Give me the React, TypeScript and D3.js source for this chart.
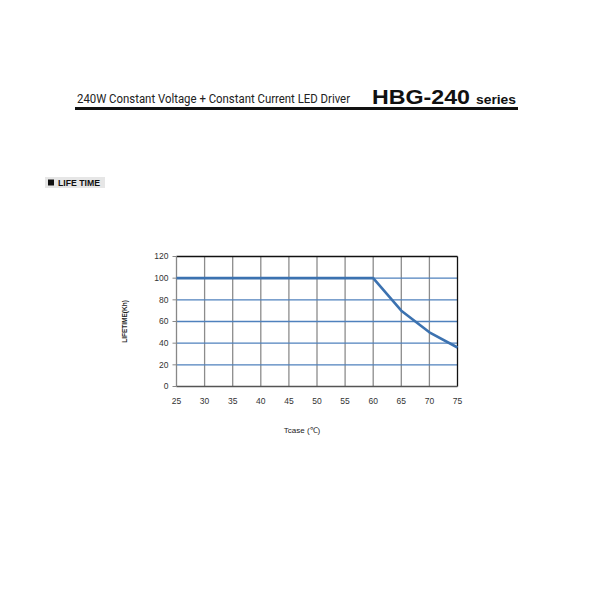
import React from "react";
import * as d3 from "d3";

const tcase = [25, 30, 35, 40, 45, 50, 55, 60, 65, 70, 75];
const lifetime = [100, 100, 100, 100, 100, 100, 100, 100, 70, 50, 36];
const yTicks = [0, 20, 40, 60, 80, 100, 120];
const xTicks = [25, 30, 35, 40, 45, 50, 55, 60, 65, 70, 75];

export default function App() {
  const W = 600, H = 599;
  const x = d3.scaleLinear().domain([25, 75]).range([176.5, 457.5]);
  const y = d3.scaleLinear().domain([0, 120]).range([386.5, 256.5]);
  const line = d3.line<number>().x((_, i) => x(tcase[i])).y((d) => y(d));
  const pts = lifetime;
  return (
    <svg width={W} height={H} style={{ position: "absolute", left: 0, top: 0, background: "#fff" }}
      fontFamily="Liberation Sans, Arial, sans-serif">
      <rect width={W} height={H} fill="#fff" />
      {/* header */}
      <text x={77} y={103} fontSize={12} fill="#222" fontFamily="Roboto, Liberation Sans, sans-serif"
        textLength={273} lengthAdjust="spacingAndGlyphs">
        240W Constant Voltage + Constant Current LED Driver
      </text>
      <text x={372} y={104} fontSize={21} fontWeight="bold" fill="#111" textLength={98} lengthAdjust="spacingAndGlyphs">
        HBG-240
      </text>
      <text x={476} y={104} fontSize={12.5} fontWeight="bold" fill="#111" textLength={40} lengthAdjust="spacingAndGlyphs">
        series
      </text>
      <rect x={75} y={107} width={443} height={3} fill="#111" />
      {/* section label */}
      <rect x={45} y={177} width={60} height={11} fill="#e6e6e6" />
      <rect x={48} y={179.5} width={6} height={6} fill="#111" />
      <text x={58} y={186} fontSize={8.5} fontWeight="bold" fill="#111" textLength={42} lengthAdjust="spacingAndGlyphs">LIFE TIME</text>
      {/* grid */}
      {xTicks.slice(1, -1).map((t) => (
        <line key={"vx" + t} x1={x(t)} x2={x(t)} y1={y(120)} y2={y(0)} stroke="#8c8c8c" strokeWidth={1.3} />
      ))}
      {yTicks.slice(1, -1).map((t) => (
        <line key={"hy" + t} x1={x(25)} x2={x(75)} y1={y(t)} y2={y(t)} stroke="#4f81bd" strokeWidth={1.3} />
      ))}
      {/* borders */}
      <line x1={x(25)} x2={x(75)} y1={y(120)} y2={y(120)} stroke="#111" strokeWidth={1.3} />
      <line x1={x(75)} x2={x(75)} y1={y(120)} y2={y(0)} stroke="#111" strokeWidth={1.3} />
      <line x1={x(25)} x2={x(25)} y1={y(120)} y2={y(0)} stroke="#888" strokeWidth={1.3} />
      <line x1={x(25)} x2={x(75)} y1={y(0)} y2={y(0)} stroke="#555" strokeWidth={1.3} />
      {/* y ticks */}
      {yTicks.map((t) => (
        <g key={"yt" + t}>
          <line x1={x(25) - 4} x2={x(25)} y1={y(t)} y2={y(t)} stroke="#888" strokeWidth={1} />
          <text x={x(25) - 8} y={y(t)} dy="0.35em" textAnchor="end" fontSize={8.5} fill="#333">{t}</text>
        </g>
      ))}
      {/* x ticks */}
      {xTicks.map((t) => (
        <text key={"xt" + t} x={x(t)} y={y(0) + 17} textAnchor="middle" fontSize={8.5} fill="#333">{t}</text>
      ))}
      {/* data line */}
      <path d={line(pts) || ""} fill="none" stroke="#3c72b0" strokeWidth={2.6} strokeLinejoin="round" />
      {/* axis titles */}
      <text transform={`translate(127,${y(60)}) rotate(-90)`} textAnchor="middle" fontSize={6.5} fontWeight="bold" fill="#222">
        LIFETIME(Kh)
      </text>
      <text x={302} y={433} textAnchor="middle" fontSize={8} fill="#222">Tcase (℃)</text>
    </svg>
  );
}
